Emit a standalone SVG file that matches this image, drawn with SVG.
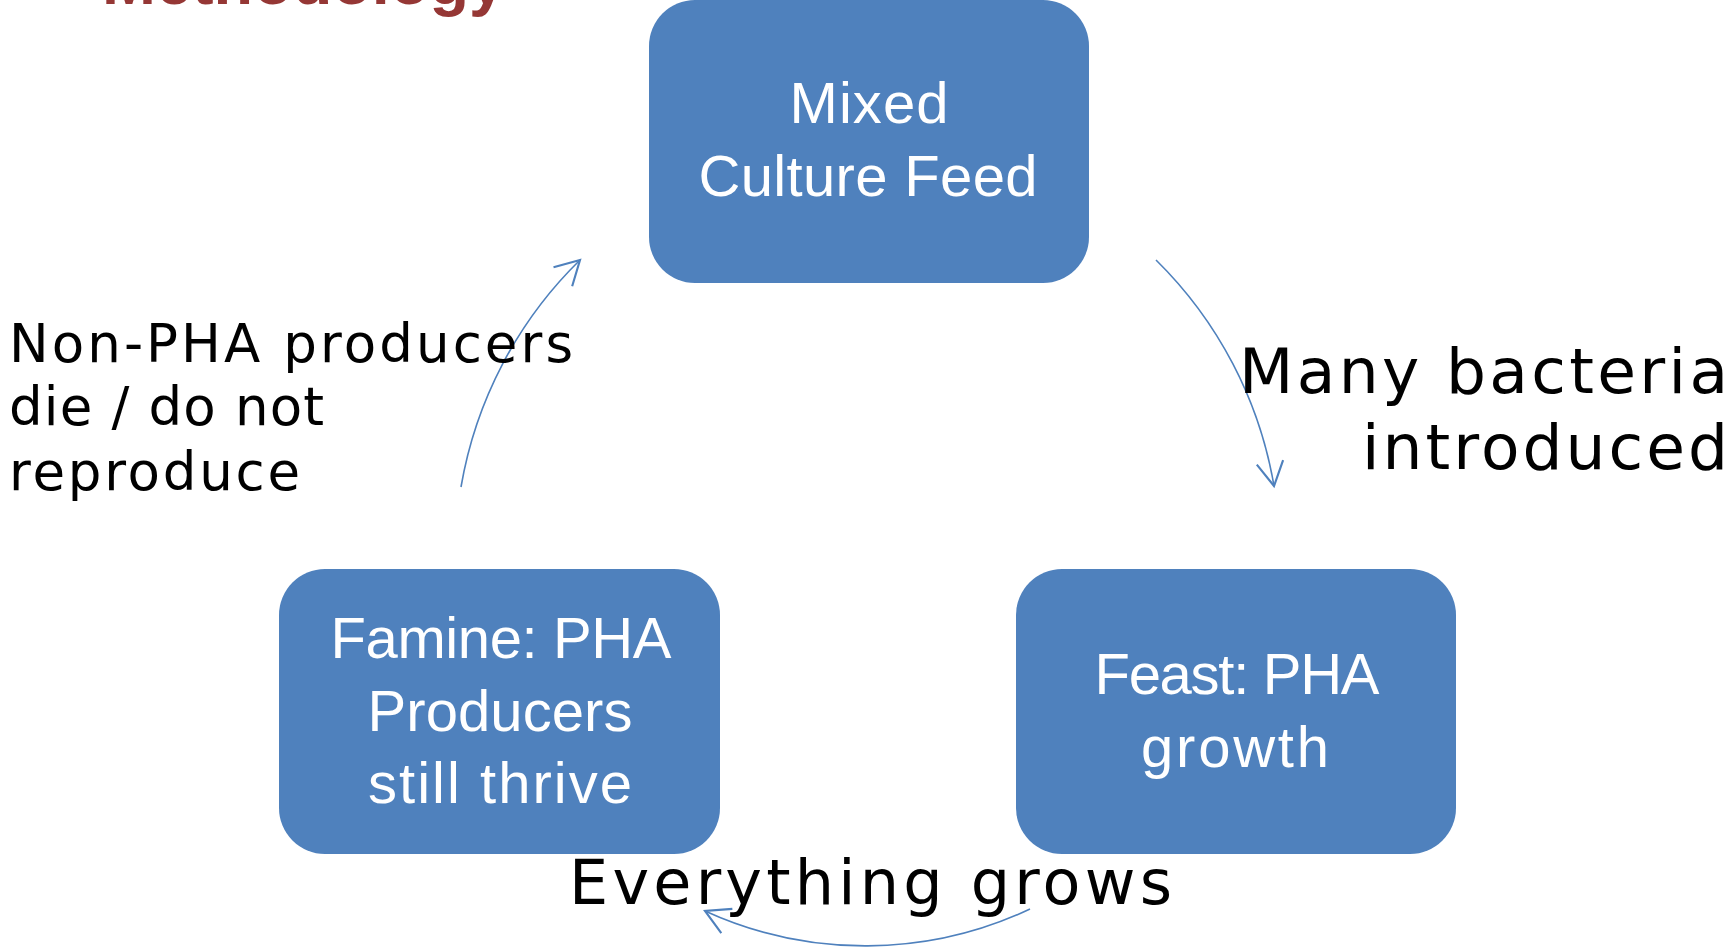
<svg xmlns="http://www.w3.org/2000/svg" width="1733" height="951" viewBox="0 0 1733 951">
<style>
.box{fill:#4F81BD;}
.bt{font-family:"Liberation Sans",Arial,sans-serif;font-size:58px;fill:#FFFFFF;text-anchor:middle;}
.lbl{font-family:"DejaVu Sans","Liberation Sans",sans-serif;fill:#000000;}
.conn{fill:none;stroke:#4F81BD;stroke-width:1.6;}
.title{font-family:"Liberation Sans",Arial,sans-serif;font-weight:bold;font-size:64px;fill:#953735;}
</style>
<defs>
<marker id="arr" markerUnits="userSpaceOnUse" markerWidth="40" markerHeight="40" refX="0" refY="0" viewBox="-25 -15 30 30" orient="auto" overflow="visible">
<path d="M -18 -10 L 0 0 L -18 10" fill="none" stroke="#4F81BD" stroke-width="1.6"/>
</marker>
</defs>
<rect width="1733" height="951" fill="#FFFFFF"/>
<text class="title" x="102" y="4" textLength="403" lengthAdjust="spacingAndGlyphs">Methodology</text>
<g id="connectors">
<path class="conn" d="M 1156 260 A 415 415 0 0 1 1274 486" marker-end="url(#arr)"/>
<path class="conn" d="M 1030 909 A 386 386 0 0 1 705 911" marker-end="url(#arr)"/>
<path class="conn" d="M 461 487 A 415 415 0 0 1 580 260" marker-end="url(#arr)"/>
</g>
<g id="node-mixed">
<rect class="box" x="649" y="0" width="440" height="283" rx="46" ry="46"/>
<text class="bt" x="869" y="123" textLength="159">Mixed</text>
<text class="bt" x="868" y="196" textLength="339">Culture Feed</text>
</g>
<g id="node-feast">
<rect class="box" x="1016" y="569" width="440" height="285" rx="46" ry="46"/>
<text class="bt" x="1237" y="694" textLength="285">Feast: PHA</text>
<text class="bt" x="1235" y="767" textLength="188">growth</text>
</g>
<g id="node-famine">
<rect class="box" x="279" y="569" width="441" height="285" rx="46" ry="46"/>
<text class="bt" x="501" y="658" textLength="341">Famine: PHA</text>
<text class="bt" x="500" y="731" textLength="265">Producers</text>
<text class="bt" x="500" y="803" textLength="264">still thrive</text>
</g>
<g id="label-many">
<text class="lbl" x="1239" y="393" font-size="63" textLength="489">Many bacteria</text>
<text class="lbl" x="1362" y="469" font-size="63" textLength="366">introduced</text>
</g>
<g id="label-everything">
<text class="lbl" x="569" y="904" font-size="62" textLength="603">Everything grows</text>
</g>
<g id="label-nonpha">
<text class="lbl" x="9" y="362" font-size="53" textLength="564">Non-PHA producers</text>
<text class="lbl" x="9" y="425" font-size="53" textLength="315">die / do not</text>
<text class="lbl" x="9" y="490" font-size="53" textLength="291">reproduce</text>
</g>
</svg>
